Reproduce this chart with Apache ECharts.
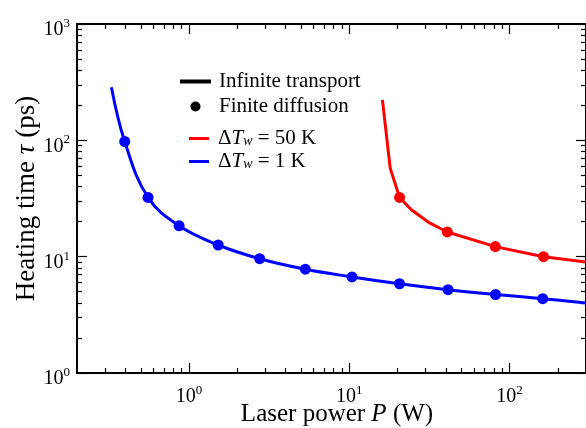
<!DOCTYPE html>
<html>
<head>
<meta charset="utf-8">
<script src="https://cdn.jsdelivr.net/npm/echarts@6/dist/echarts.min.js"></script>
<style>
html, body { margin: 0; padding: 0; background: #fff; }
#chart { width: 586px; height: 428px; }
</style>
</head>
<body>
<div id="chart"></div>
<script>
// Heating time tau (ps) versus laser power P (W), both on log10 scales.
// Solid curves: infinite transport model; dots: finite diffusion model.
const blueCurveP   = [0.328, 0.397, 0.555, 0.867, 1.52, 2.76, 5.32, 10.4, 20.6, 41.3, 81.8, 161, 300];
const blueCurveTau = [286, 97.7, 32.3, 18.4, 12.6, 9.6, 7.8, 6.7, 5.85, 5.2, 4.73, 4.35, 4.0];
const blueDotsP    = [0.397, 0.555, 0.867, 1.52, 2.76, 5.32, 10.4, 20.6, 41.3, 81.8, 161];
const blueDotsTau  = [97.7, 32.3, 18.4, 12.6, 9.6, 7.8, 6.7, 5.85, 5.2, 4.73, 4.35];
const redCurveP    = [16.1, 18.0, 20.6, 24.4, 31.7, 40.9, 81.5, 163, 300];
const redCurveTau  = [223, 57.7, 32.3, 25.3, 19.5, 16.3, 12.2, 10.0, 9.0];
const redDotsP     = [20.6, 40.9, 81.5, 163];
const redDotsTau   = [32.3, 16.3, 12.2, 10.0];

// Axis ranges and tick positions (in W and ps)
const xRange = [0.2, 300];
const yRange = [1, 1000];
const xMajorTicks = [1, 10, 100];
const yMajorTicks = [1, 10, 100, 1000];
const xMinorTicks = [0.3, 0.4, 0.5, 0.6, 0.7, 0.8, 0.9, 2, 3, 4, 5, 6, 7, 8, 9, 20, 30, 40, 50, 60, 70, 80, 90, 200];
const yMinorTicks = [2, 3, 4, 5, 6, 7, 8, 9, 20, 30, 40, 50, 60, 70, 80, 90, 200, 300, 400, 500, 600, 700, 800, 900];

const lg = Math.log10;
const pairs = (ps, ts) => ps.map((p, i) => [lg(p), lg(ts[i])]);

const serif = '"Liberation Serif", "Times New Roman", serif';
const black = '#000';

// "10" with the exponent raised as a superscript
const powerLabel = v => '{b|10}{s|' + Math.round(v) + '}';
const powerRich = {
  b: { fontFamily: serif, fontSize: 20, lineHeight: 26, color: black },
  s: { fontFamily: serif, fontSize: 13, lineHeight: 2, verticalAlign: 'top', color: black }
};

function makeAxis(range, pos, ticks, tickLen, opts) {
  return Object.assign({
    type: 'value',
    position: pos,
    gridIndex: 0,
    min: lg(range[0]),
    max: lg(range[1]),
    axisLine: { show: false, onZero: false },
    axisTick: { show: true, inside: true, length: tickLen, customValues: ticks.map(lg),
                lineStyle: { color: black, width: 1.2 } },
    axisLabel: { show: false },
    splitLine: { show: false },
    minorTick: { show: false },
    silent: true
  }, opts || {});
}

const frameLine = { show: true, onZero: false, lineStyle: { color: black, width: 2 } };

const xAxes = [
  makeAxis(xRange, 'bottom', xMajorTicks, 10, {
    axisLine: frameLine,
    axisLabel: { show: true, customValues: xMajorTicks.map(lg), formatter: powerLabel, rich: powerRich, margin: 11 },
    name: 'Laser power {i|P} (W)',
    nameLocation: 'middle',
    nameGap: 29,
    nameMoveOverlap: false,
    nameTextStyle: {
      fontFamily: serif, fontSize: 25, color: black, padding: [0, 0, 0, 11],
      rich: {
        i: { fontFamily: serif, fontSize: 25, fontStyle: 'italic', color: black }
      }
    }
  }),
  makeAxis(xRange, 'top', xMajorTicks, 10, { axisLine: frameLine }),
  makeAxis(xRange, 'bottom', xMinorTicks, 5),
  makeAxis(xRange, 'top', xMinorTicks, 5)
];

const yAxes = [
  makeAxis(yRange, 'left', yMajorTicks, 10, {
    axisLine: frameLine,
    axisLabel: { show: true, customValues: yMajorTicks.map(lg), formatter: powerLabel, rich: powerRich,
                 margin: 7, padding: [12, 0, 0, 0] },
    name: 'Heating time {i|τ} (ps)',
    nameLocation: 'middle',
    nameGap: 37,
    nameMoveOverlap: false,
    nameTextStyle: {
      fontFamily: serif, fontSize: 27, color: black,
      rich: {
        i: { fontFamily: serif, fontSize: 27, fontStyle: 'italic', color: black }
      }
    }
  }),
  makeAxis(yRange, 'right', yMajorTicks, 10, { axisLine: frameLine }),
  makeAxis(yRange, 'left', yMinorTicks, 5),
  makeAxis(yRange, 'right', yMinorTicks, 5)
];

const RED = '#ff0000';
const BLUE = '#0000ff';

// Legend label "ΔT_w = ..." with italic T and subscript w
const deltaLabel = name => '{d|Δ}{i|T}{w|w}{p|' + name.slice(3) + '}';
const legendFont = { fontFamily: serif, fontSize: 21, color: black };
// Plain bar icons for the line entries (aspect kept inside the item box)
const wideLineIcon = 'path://M0,0h31v4h-31z';
const shortLineIcon = 'path://M0,0h20v3h-20z';

const chart = echarts.init(document.getElementById('chart'), null, { renderer: 'canvas' });
chart.setOption({
  animation: false,
  backgroundColor: '#fff',
  grid: { left: 77, right: 0, top: 24, bottom: 55, containLabel: false, outerBoundsMode: 'none' },
  xAxis: xAxes,
  yAxis: yAxes,
  legend: [
    {
      data: [
        { name: 'Infinite transport', icon: wideLineIcon },
        { name: 'Finite diffusion', icon: 'circle' }
      ],
      orient: 'vertical', left: 180, top: 71, padding: 0,
      itemWidth: 31, itemHeight: 10, itemGap: 4,
      selectedMode: false,
      formatter: name => '{t|' + name + '}',
      textStyle: Object.assign({}, legendFont, {
        rich: { t: Object.assign({ lineHeight: 20, padding: [0, 0, 0, 3] }, legendFont) }
      })
    },
    {
      data: [
        { name: 'ΔTw = 50 K', icon: shortLineIcon },
        { name: 'ΔTw = 1 K', icon: shortLineIcon }
      ],
      orient: 'vertical', left: 189, top: 128, padding: 0,
      itemWidth: 20, itemHeight: 10, itemGap: 2,
      selectedMode: false,
      formatter: deltaLabel,
      textStyle: Object.assign({}, legendFont, {
        rich: {
          d: Object.assign({ lineHeight: 20, padding: [0, 0, 0, 4] }, legendFont),
          p: Object.assign({ lineHeight: 20 }, legendFont),
          i: Object.assign({ lineHeight: 20, fontStyle: 'italic' }, legendFont),
          w: { fontFamily: serif, fontSize: 14, fontStyle: 'italic', color: black, lineHeight: 6, verticalAlign: 'bottom' }
        }
      })
    }
  ],
  series: [
    {
      name: 'Infinite transport', type: 'line', data: [], symbol: 'none',
      itemStyle: { color: black }, lineStyle: { color: black, width: 4 }
    },
    {
      name: 'Finite diffusion', type: 'scatter', data: [], symbol: 'circle', symbolSize: 10,
      itemStyle: { color: black, opacity: 1 }
    },
    {
      name: 'ΔTw = 50 K', type: 'line', data: pairs(redCurveP, redCurveTau),
      symbol: 'none', smooth: false, clip: true,
      itemStyle: { color: RED }, lineStyle: { color: RED, width: 3 }, z: 3
    },
    {
      name: 'ΔTw = 50 K dots', type: 'scatter', data: pairs(redDotsP, redDotsTau),
      symbol: 'circle', symbolSize: 11, itemStyle: { color: RED, opacity: 1 }, z: 4
    },
    {
      name: 'ΔTw = 1 K', type: 'line', data: pairs(blueCurveP, blueCurveTau),
      symbol: 'none', smooth: 0.4, clip: true,
      itemStyle: { color: BLUE }, lineStyle: { color: BLUE, width: 3 }, z: 3
    },
    {
      name: 'ΔTw = 1 K dots', type: 'scatter', data: pairs(blueDotsP, blueDotsTau),
      symbol: 'circle', symbolSize: 11, itemStyle: { color: BLUE, opacity: 1 }, z: 4
    }
  ]
});
</script>
</body>
</html>
